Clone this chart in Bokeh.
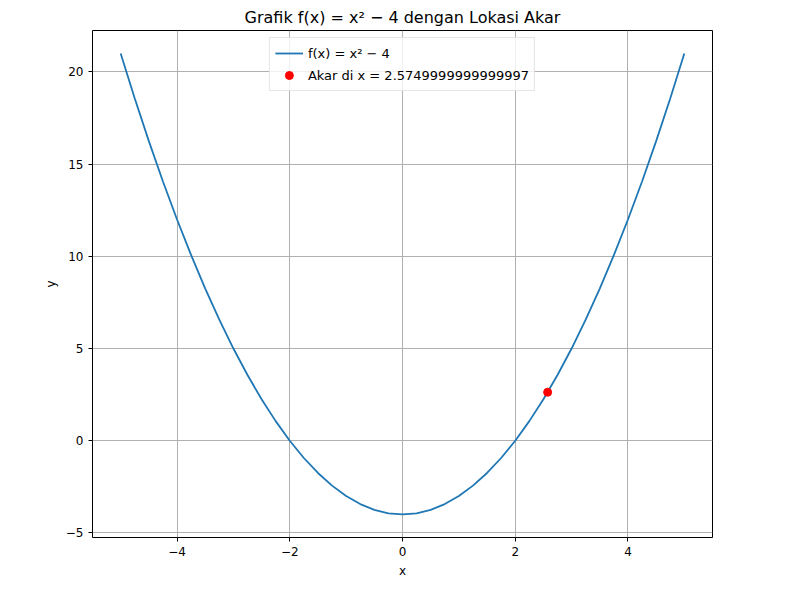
from bokeh.plotting import figure
from bokeh.models import Range1d, FixedTicker
from bokeh.embed import file_html
from bokeh.resources import INLINE

# curve points
xs = [-5.0, -4.75, -4.5, -4.25, -4.0, -3.75, -3.5, -3.25, -3.0, -2.75, -2.5, -2.25, -2.0,
      -1.75, -1.5, -1.25, -1.0, -0.75, -0.5, -0.25, 0.0, 0.25, 0.5, 0.75, 1.0, 1.25, 1.5,
      1.75, 2.0, 2.25, 2.5, 2.75, 3.0, 3.25, 3.5, 3.75, 4.0, 4.25, 4.5, 4.75, 5.0]
ys = [21.0, 18.5625, 16.25, 14.0625, 12.0, 10.0625, 8.25, 6.5625, 5.0, 3.5625, 2.25, 1.0625, 0.0,
      -0.9375, -1.75, -2.4375, -3.0, -3.4375, -3.75, -3.9375, -4.0, -3.9375, -3.75, -3.4375, -3.0,
      -2.4375, -1.75, -0.9375, 0.0, 1.0625, 2.25, 3.5625, 5.0, 6.5625, 8.25, 10.0625, 12.0,
      14.0625, 16.25, 18.5625, 21.0]
root_x = [2.5749999999999997]
root_y = [2.63]

x_ticks = [-4, -2, 0, 2, 4]
y_ticks = [-5, 0, 5, 10, 15, 20]

FONT = "DejaVu Sans"

p = figure(width=784, height=584, output_backend="svg", toolbar_location=None,
           title="Grafik f(x) = x² − 4 dengan Lokasi Akar",
           x_range=Range1d(-5.5, 5.5), y_range=Range1d(-5.25, 22.25),
           x_axis_label="x", y_axis_label="y",
           min_border_left=92, min_border_right=72, min_border_top=30, min_border_bottom=47)

p.title.align = "center"
p.title.text_font = FONT
p.title.text_font_size = "16px"
p.title.text_font_style = "normal"
p.title.text_color = "black"
p.title.standoff = 8
p.outline_line_color = "black"
p.background_fill_color = "white"

for ax in (p.xaxis, p.yaxis):
    ax.axis_label_text_font = FONT
    ax.axis_label_text_font_size = "12px"
    ax.axis_label_text_font_style = "normal"
    ax.axis_label_text_color = "black"
    ax.major_label_text_font = FONT
    ax.major_label_text_font_size = "12px"
    ax.major_label_text_color = "black"
    ax.minor_tick_line_color = None
    ax.major_tick_out = 4
    ax.major_tick_in = 0
    ax.major_tick_line_color = "black"
    ax.axis_line_color = None
p.xaxis.ticker = FixedTicker(ticks=x_ticks)
p.yaxis.ticker = FixedTicker(ticks=y_ticks)
p.xaxis.major_label_overrides = {t: str(t).replace("-", "−") for t in x_ticks}
p.yaxis.major_label_overrides = {t: str(t).replace("-", "−") for t in y_ticks}

p.xgrid.ticker = FixedTicker(ticks=x_ticks)
p.ygrid.ticker = FixedTicker(ticks=y_ticks)
p.grid.grid_line_color = "#b0b0b0"
p.grid.grid_line_width = 1

p.line(xs, ys, line_color="#1f77b4", line_width=1.8, legend_label="f(x) = x² − 4")
p.scatter(root_x, root_y, size=8, color="red", legend_label="Akar di x = 2.5749999999999997")

p.legend.location = "top_center"
p.legend.label_text_font = FONT
p.legend.label_text_font_size = "13px"
p.legend.label_text_color = "black"
p.legend.border_line_color = "#cccccc"
p.legend.background_fill_alpha = 0.8
p.legend.spacing = 2
p.legend.padding = 5
p.legend.margin = 7
p.legend.glyph_height = 20
p.legend.glyph_width = 28

open("out.html", "w").write(file_html(p, INLINE))
